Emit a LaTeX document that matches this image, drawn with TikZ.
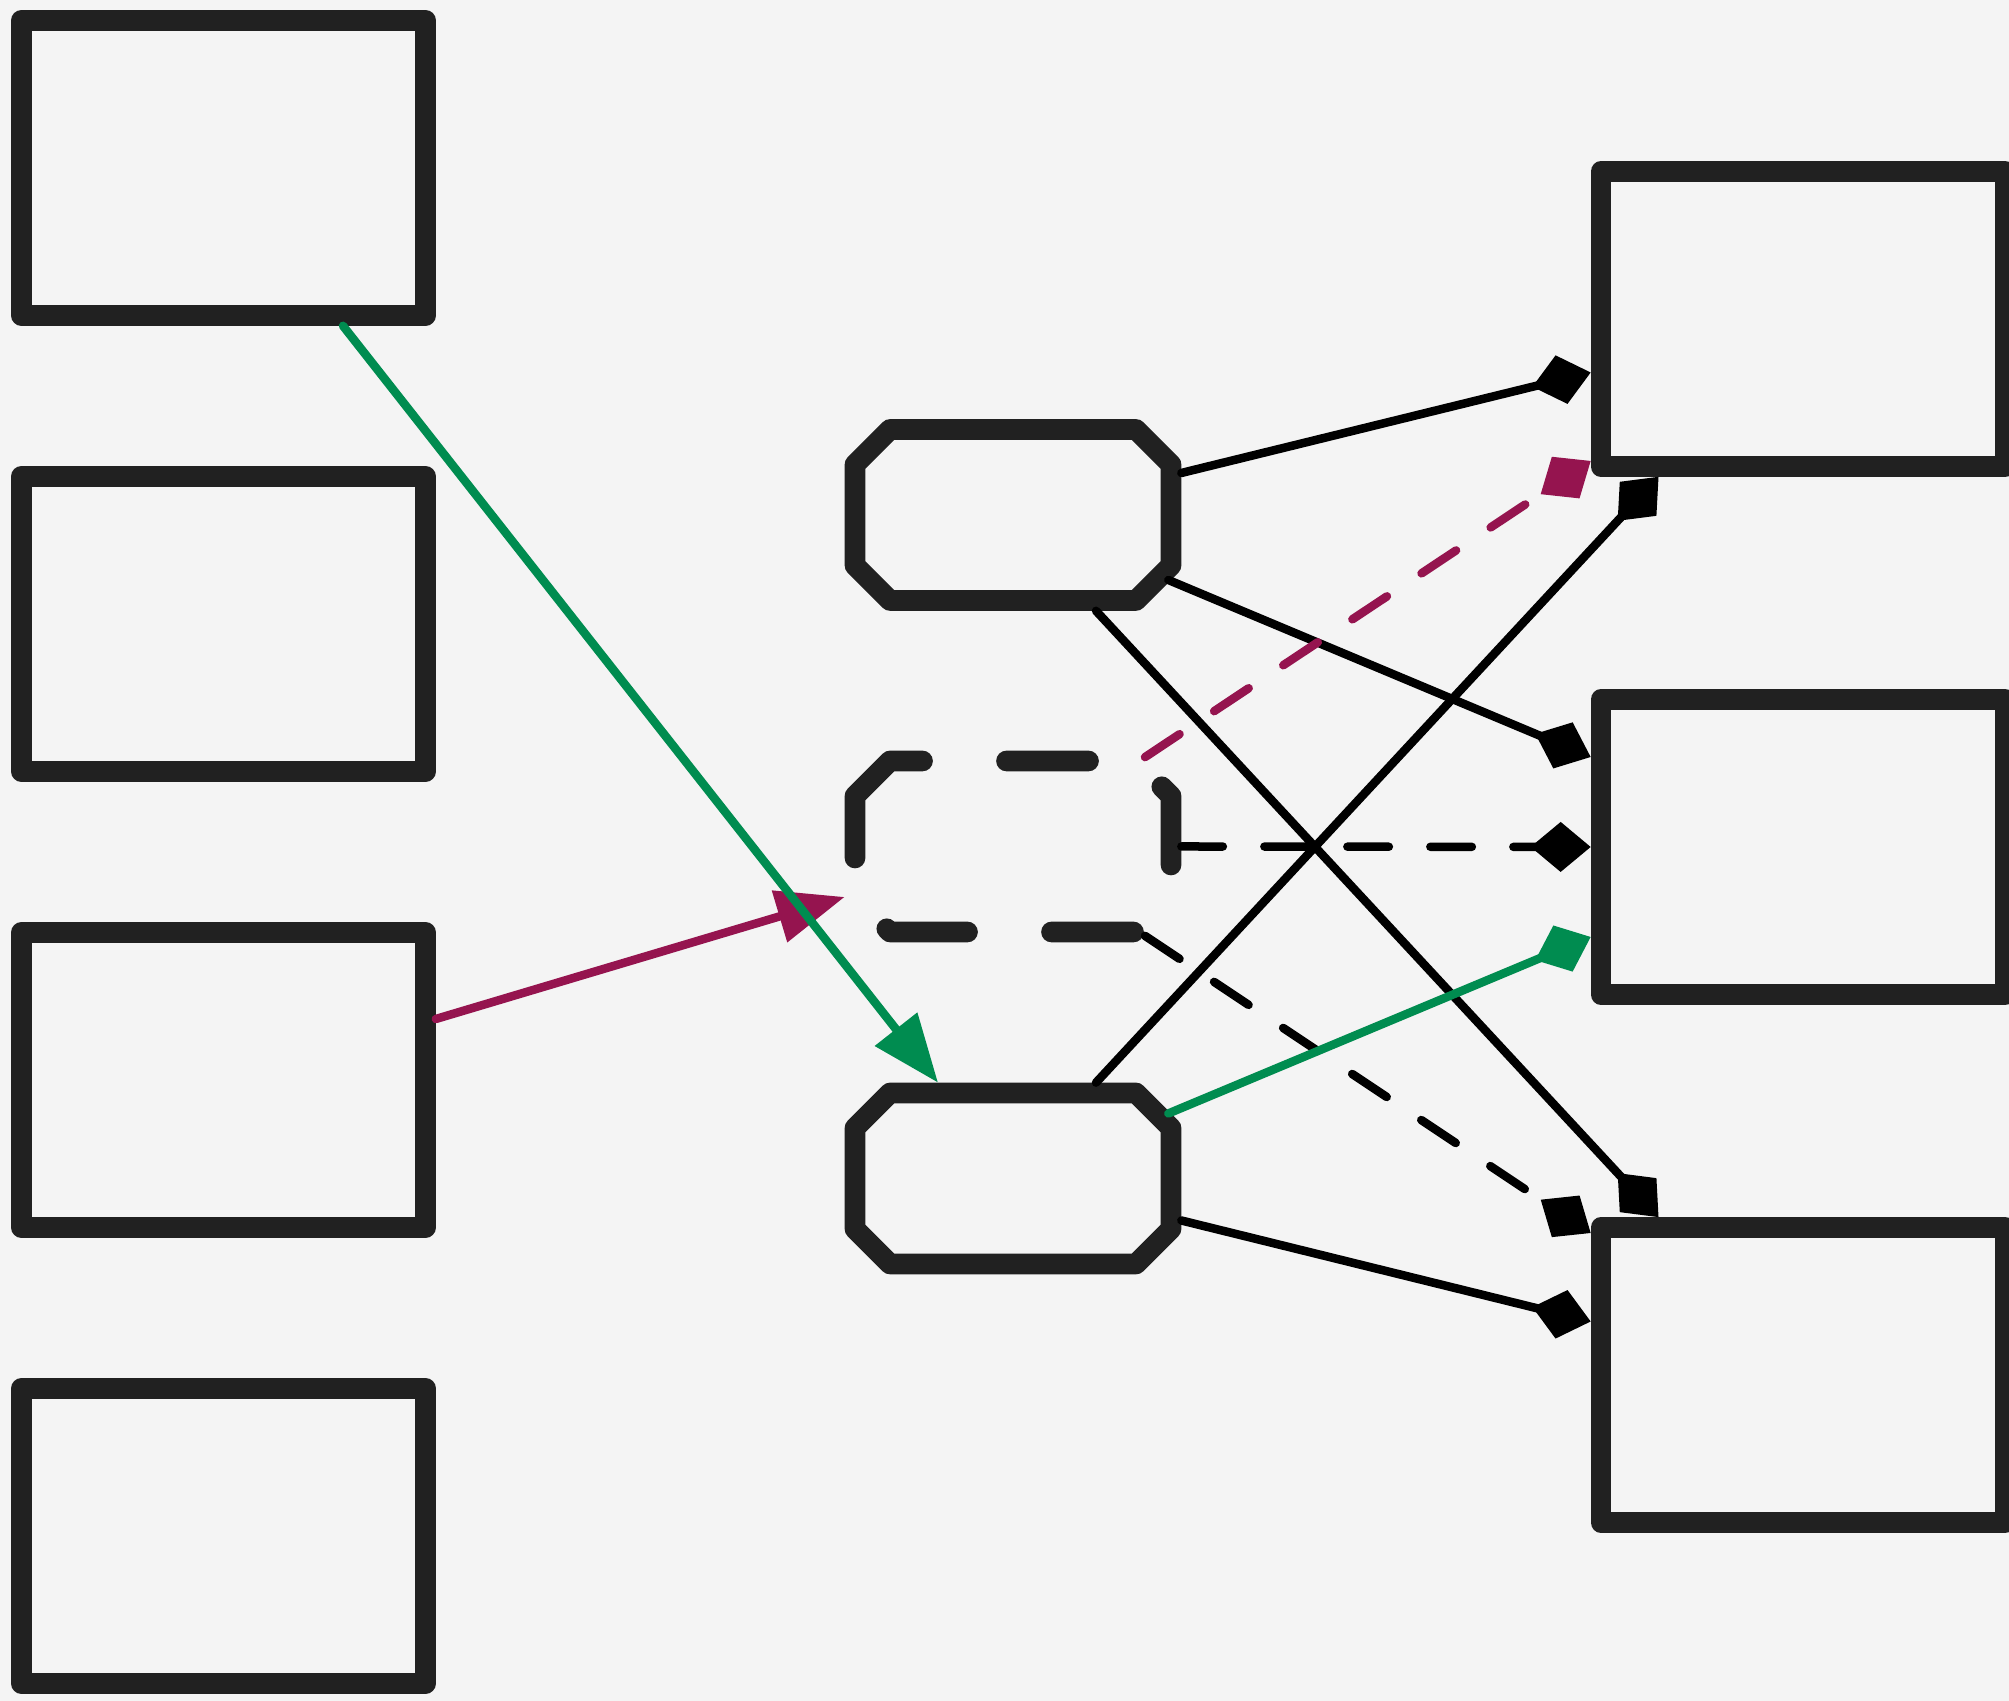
\documentclass[tikz,border=0pt]{standalone}
\usepackage{tikz}
\usetikzlibrary{arrows.meta}
\definecolor{gridInk}{HTML}{212121}
\definecolor{gridPaper}{HTML}{F4F4F4}
\definecolor{gridGreen}{HTML}{008C50}
\definecolor{gridWine}{HTML}{95144F}
\tikzset{
  grid box/.style={draw=gridInk, line width=0.207cm, line join=round,
    minimum width=4.04cm, minimum height=2.95cm, inner sep=0pt},
  grid hub/.style={line width=0.207cm, minimum width=3.16cm,
    minimum height=1.71cm, inner sep=0pt},
  grid outline/.style={draw=gridInk, line width=0.207cm, line join=round},
  grid outline dashed/.style={grid outline, line cap=round,
    dash pattern=on 0.82cm off 0.84cm},
  grid link/.style={draw=black, line width=0.085cm, line cap=round},
  grid dashed/.style={grid link, dash pattern=on 0.415cm off 0.415cm},
  grid diamond/.style={-{Diamond[length=0.6cm,width=0.5cm]}},
  grid arrow/.style={-{Triangle[length=0.68cm,width=0.52cm]}}
}
\begin{document}
\begin{tikzpicture}
  \useasboundingbox (0,0) rectangle (20.09,17.01);
  \fill[gridPaper] (0,0) rectangle (20.09,17.01);
  % left column
  \node[grid box] (src1) at (2.235,15.33) {};
  \node[grid box] (src2) at (2.235,10.77) {};
  \node[grid box] (src3) at (2.235,6.21) {};
  \node[grid box] (src4) at (2.235,1.65) {};
  % middle column, octagons drawn by hand
  \node[grid hub] (hub1) at (10.13,11.86) {};
  \node[grid hub] (hub2) at (10.13,8.545) {};
  \node[grid hub] (hub3) at (10.13,5.225) {};
  \foreach \h/\s in {hub1/grid outline, hub2/grid outline dashed, hub3/grid outline}
    \draw[\s] (\h.center) ++(-1.58,0.505) -- ++(0.35,0.35) -- ++(2.46,0)
      -- ++(0.35,-0.35) -- ++(0,-1.01) -- ++(-0.35,-0.35) -- ++(-2.46,0)
      -- ++(-0.35,0.35) -- cycle;
  % right column
  \node[grid box] (dst1) at (18.03,13.82) {};
  \node[grid box] (dst2) at (18.03,8.54) {};
  \node[grid box] (dst3) at (18.03,3.26) {};
  % edges
  \draw[grid link,grid arrow,draw=gridWine] ([yshift=0.61cm]src3.east) -- ([yshift=-0.505cm]hub2.west);
  \draw[grid link,grid arrow,draw=gridGreen] ([xshift=1.195cm]src1.south) -- ([xshift=-0.75cm]hub3.north);
  \draw[grid link,grid diamond] ([yshift=0.42cm]hub1.east) -- ([yshift=-0.535cm]dst1.west);
  \draw[grid link,grid diamond] ([xshift=-0.13cm,yshift=-0.65cm]hub1.east) -- ([yshift=0.9cm]dst2.west);
  \draw[grid link,grid diamond] ([xshift=0.83cm]hub1.south) -- ([xshift=-1.445cm]dst3.north);
  \draw[grid dashed,grid diamond,draw=gridWine] ([xshift=1.32cm,yshift=-0.065cm]hub2.north) -- ([yshift=-1.42cm]dst1.west);
  \draw[grid dashed,grid diamond] (hub2.east) -- (dst2.west);
  \draw[grid dashed,grid diamond] ([xshift=1.32cm,yshift=0.065cm]hub2.south) -- ([yshift=1.42cm]dst3.west);
  \draw[grid link,grid diamond] ([xshift=0.83cm]hub3.north) -- ([xshift=-1.445cm]dst1.south);
  \draw[grid link,grid diamond,draw=gridGreen] ([xshift=-0.13cm,yshift=0.65cm]hub3.east) -- ([yshift=-0.9cm]dst2.west);
  \draw[grid link,grid diamond] ([yshift=-0.42cm]hub3.east) -- ([yshift=0.535cm]dst3.west);
\end{tikzpicture}
\end{document}
